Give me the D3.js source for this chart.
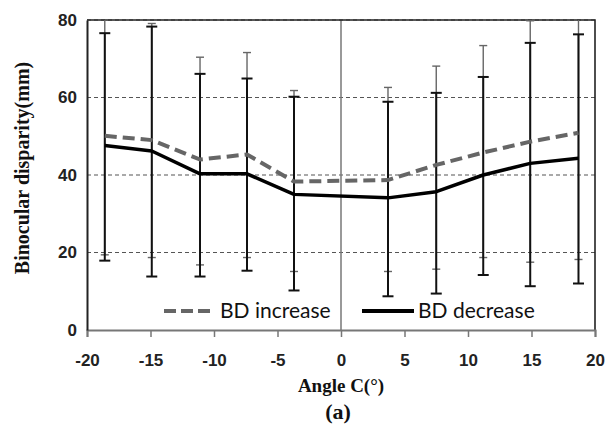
<!DOCTYPE html>
<html>
<head>
    <script src="https://d3js.org/d3.v7.min.js"></script>
    <style>
        body { margin: 0; background: white; }
        .tick-label { font: bold 17px "Liberation Sans", Arial, sans-serif; fill: #222; }
        .title { font: bold 19px "Liberation Serif", "Times New Roman", serif; fill: #111; }
        .legend { font: 21px Lato, "Open Sans", sans-serif; fill: #111; }
    </style>
</head>
<body>
<script>
    // data
    const angles = [-18.6, -14.9, -11.1, -7.4, -3.7, 3.7, 7.5, 11.2, 14.9, 18.7];
    const bdIncrease = [50.1, 49.0, 44.0, 45.3, 38.3, 38.7, 42.6, 45.8, 48.6, 50.9];
    const bdDecrease = [47.6, 46.2, 40.3, 40.3, 35.0, 34.1, 35.7, 40.0, 43.0, 44.3];
    const incUpper = [82, 79.1, 70.4, 71.6, 61.8, 62.6, 68.1, 73.4, 79.8, 82];
    const incLower = [19.4, 18.7, 16.8, 18.7, 15.1, 15.1, 15.7, 18.7, 17.5, 18.2];
    const decUpper = [76.6, 78.3, 66.1, 64.9, 60.2, 58.9, 61.2, 65.3, 74.1, 76.3];
    const decLower = [17.9, 13.8, 13.8, 15.3, 10.2, 8.7, 9.4, 14.2, 11.3, 12.0];
    const xTicks = [-20, -15, -10, -5, 0, 5, 10, 15, 20];
    const yTicks = [0, 20, 40, 60, 80];

    const width = 608, height = 427;
    const margin = { left: 87, right: 13, top: 20, bottom: 97 };

    const svg = d3.select('body').append('svg')
        .attr('width', width)
        .attr('height', height);

    const x = d3.scaleLinear().domain([-20, 20]).range([margin.left, width - margin.right]);
    const y = d3.scaleLinear().domain([0, 80]).range([height - margin.bottom, margin.top]);

    svg.append('defs').append('clipPath').attr('id', 'plot')
        .append('rect')
        .attr('x', x(-20)).attr('y', y(80))
        .attr('width', x(20) - x(-20)).attr('height', y(0) - y(80));

    // horizontal dashed grid
    svg.append('g').selectAll('line')
        .data(yTicks.filter(d => d > 0))
        .enter().append('line')
        .attr('x1', x(-20)).attr('x2', x(20))
        .attr('y1', d => y(d)).attr('y2', d => y(d))
        .attr('stroke', '#555').attr('stroke-width', 1.2)
        .attr('stroke-dasharray', '4,3');

    // vertical line at 0
    svg.append('line')
        .attr('x1', x(0)).attr('x2', x(0))
        .attr('y1', y(80)).attr('y2', y(0))
        .attr('stroke', '#777').attr('stroke-width', 1.5);

    // frame: top and right
    svg.append('path')
        .attr('d', `M${x(-20)},${y(80)}H${x(20)}V${y(0)}`)
        .attr('fill', 'none').attr('stroke', '#222').attr('stroke-width', 1.6);

    // bottom axis
    const xAxis = svg.append('g')
        .attr('transform', `translate(0,${y(0)})`)
        .call(d3.axisBottom(x).tickValues(xTicks).tickSize(7).tickFormat(d3.format('d')));
    xAxis.select('.domain').attr('stroke', '#777').attr('stroke-width', 2);
    xAxis.selectAll('.tick line').attr('stroke', '#777').attr('stroke-width', 1.5);
    xAxis.selectAll('.tick text').attr('class', 'tick-label').attr('dy', '1.55em')
        .text(d => d < 0 ? '-' + Math.abs(d) : d);

    // left axis
    const yAxis = svg.append('g')
        .attr('transform', `translate(${x(-20)},0)`)
        .call(d3.axisLeft(y).tickValues(yTicks).tickSize(0).tickPadding(10));
    yAxis.select('.domain').attr('stroke', '#222').attr('stroke-width', 2);
    yAxis.selectAll('.tick text').attr('class', 'tick-label');

    const plot = svg.append('g').attr('clip-path', 'url(#plot)');

    function errorBars(upper, lower, color, w, cap) {
        const g = plot.append('g');
        g.selectAll('line.v').data(angles).enter().append('line')
            .attr('x1', d => x(d)).attr('x2', d => x(d))
            .attr('y1', (d, i) => y(upper[i])).attr('y2', (d, i) => y(lower[i]))
            .attr('stroke', color).attr('stroke-width', w);
        [upper, lower].forEach(arr => {
            g.selectAll(null).data(angles).enter().append('line')
                .attr('x1', d => x(d) - cap).attr('x2', d => x(d) + cap)
                .attr('y1', (d, i) => y(arr[i])).attr('y2', (d, i) => y(arr[i]))
                .attr('stroke', color).attr('stroke-width', w);
        });
    }
    errorBars(incUpper, incLower, '#666', 1.4, 4);
    errorBars(decUpper, decLower, '#111', 2, 5.5);

    const line = d3.line().x((d, i) => x(angles[i])).y(d => y(d));

    plot.append('path').datum(bdIncrease)
        .attr('d', line)
        .attr('fill', 'none').attr('stroke', '#666').attr('stroke-width', 4)
        .attr('stroke-dasharray', '12,6');

    plot.append('path').datum(bdDecrease)
        .attr('d', line)
        .attr('fill', 'none').attr('stroke', '#000').attr('stroke-width', 3.5)
        .attr('stroke-linejoin', 'round');

    // legend
    const leg = svg.append('g');
    leg.append('line').attr('x1', 164).attr('x2', 212).attr('y1', 311).attr('y2', 311)
        .attr('stroke', '#666').attr('stroke-width', 4).attr('stroke-dasharray', '12,5');
    leg.append('text').attr('class', 'legend').attr('x', 220).attr('y', 318).text('BD increase');
    leg.append('line').attr('x1', 362).attr('x2', 414).attr('y1', 311).attr('y2', 311)
        .attr('stroke', '#000').attr('stroke-width', 4);
    leg.append('text').attr('class', 'legend').attr('x', 418).attr('y', 318).text('BD decrease');

    // titles
    svg.append('text').attr('class', 'title')
        .style('font-size', '20px')
        .attr('transform', `translate(29,168) rotate(-90)`)
        .attr('text-anchor', 'middle')
        .text('Binocular disparity(mm)');
    svg.append('text').attr('class', 'title')
        .attr('x', x(0)).attr('y', 392).attr('text-anchor', 'middle')
        .text('Angle C(°)');
    svg.append('text').attr('class', 'title')
        .style('font-size', '22px')
        .attr('x', 338).attr('y', 419).attr('text-anchor', 'middle')
        .text('(a)');
</script>
</body>
</html>
